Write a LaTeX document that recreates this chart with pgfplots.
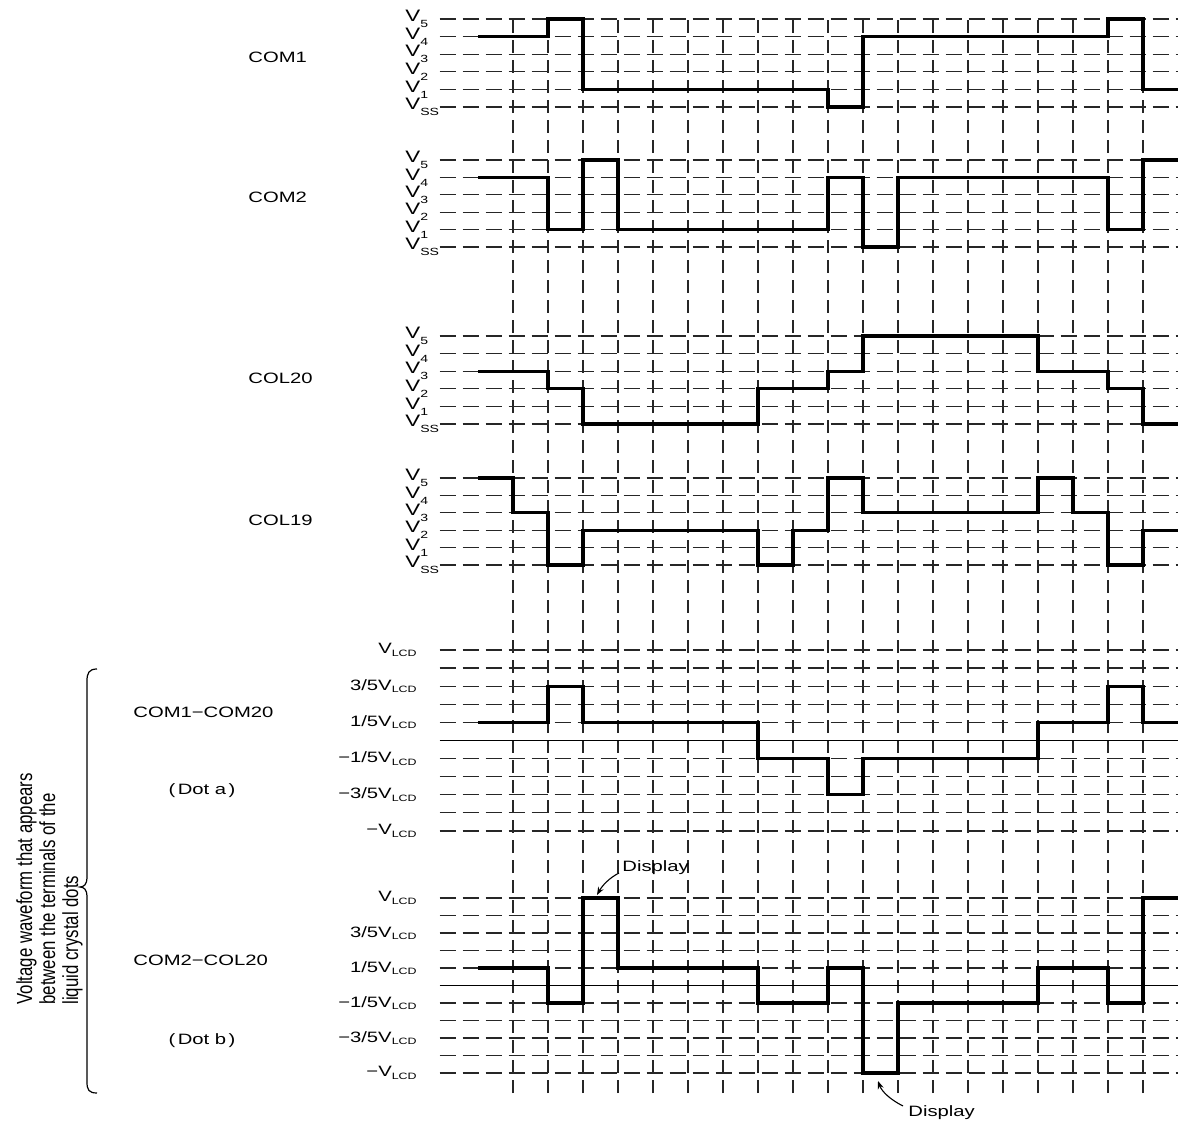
\documentclass[border=0pt]{standalone}
\usepackage{fontspec}
\setmainfont[FakeStretch=1.35]{Liberation Sans}
\newfontfamily\plainfont{Liberation Sans}
\usepackage{graphicx}
\usepackage{pgfplots}
\pgfplotsset{compat=1.18}
\usetikzlibrary{arrows.meta}
\newcommand\sub[1]{\raisebox{-0.7ex}{\fontsize{5.2}{5}\selectfont #1}}
\newcommand\subl[1]{\raisebox{-0.3ex}{\fontsize{4.6}{5}\selectfont #1}}
\pgfplotsset{
  wave/.style={
    scale only axis, width=369.25pt, xmin=-1.1, xmax=20,
    clip=false, axis line style={draw=none}, tick style={draw=none},
    major tick length=0pt, xtick=\empty,
    ymajorgrids,
    grid style={black!85, line width=0.6pt, dash pattern=on 8pt off 3.5pt},
    anchor=south west,
  },
  vsec/.style={wave, ymin=0, ymax=5, ytick={0,1,2,3,4,5},
    yticklabels={V\sub{SS},V\sub{1},V\sub{2},V\sub{3},V\sub{4},V\sub{5}},
    yticklabel style={anchor=west, inner sep=0pt, xshift=-17.25pt, font=\fontsize{8.3}{9}\selectfont}},
  dsec/.style={wave, ymin=-1, ymax=1, ytick={-1,-0.6,-0.2,0.2,0.6,1},
    yticklabels={−V\subl{LCD},−3/5V\subl{LCD},−1/5V\subl{LCD},1/5V\subl{LCD},3/5V\subl{LCD},V\subl{LCD}},
    yticklabel style={anchor=east, inner sep=0pt, xshift=-11.25pt},
    extra y ticks={-0.8,-0.4,0.4,0.8}, extra y tick labels={},
    extra y tick style={grid=major}},
  sig/.style={const plot, black, line width=1.6pt, line join=miter, no marks},
}
\begin{document}
\fontsize{7.5}{9}\selectfont
\begin{tikzpicture}[font=\fontsize{7.5}{9}\selectfont]
\path[use as bounding box] (0,0) rectangle (589pt,562.5pt);

% vertical dashed grid through all sections
\begin{axis}[scale only axis, width=369.25pt, height=537pt, xmin=-1.1, xmax=20,
  ymin=0, ymax=1, at={(219.75pt,16pt)}, anchor=south west,
  axis line style={draw=none}, tick style={draw=none}, major tick length=0pt,
  xtick={1,2,3,4,5,6,7,8,9,10,11,12,13,14,15,16,17,18,19}, xticklabels={},
  ytick=\empty, xmajorgrids,
  grid style={black!85, line width=0.6pt, dash pattern=on 6.5pt off 3.5pt}]
\addplot[draw=none] coordinates {(0,0)(20,1)};
\end{axis}

% COM1
\begin{axis}[vsec, height=44pt, at={(219.75pt,509pt)}]
\addplot[sig] coordinates {(0,4)(2,5)(3,1)(10,0)(11,4)(18,5)(19,1)(20,1)};
\end{axis}
% COM2
\begin{axis}[vsec, height=43.5pt, at={(219.75pt,439pt)}]
\addplot[sig] coordinates {(0,4)(2,1)(3,5)(4,1)(10,4)(11,0)(12,4)(18,1)(19,5)(20,5)};
\end{axis}
% COL20
\begin{axis}[vsec, height=44pt, at={(219.75pt,350.5pt)}]
\addplot[sig] coordinates {(0,3)(2,2)(3,0)(8,2)(10,3)(11,5)(16,3)(18,2)(19,0)(20,0)};
\end{axis}
% COL19
\begin{axis}[vsec, height=43.5pt, at={(219.75pt,280pt)}]
\addplot[sig] coordinates {(0,5)(1,3)(2,0)(3,2)(8,0)(9,2)(10,5)(11,3)(16,5)(17,3)(18,0)(19,2)(20,2)};
\end{axis}
% Dot a
\begin{axis}[dsec, height=90.5pt, at={(219.75pt,147pt)}]
\addplot[black, line width=0.6pt] coordinates {(-1.1,0)(20,0)};
\addplot[sig] coordinates {(0,0.2)(2,0.6)(3,0.2)(8,-0.2)(10,-0.6)(11,-0.2)(16,0.2)(18,0.6)(19,0.2)(20,0.2)};
\end{axis}
% Dot b
\begin{axis}[dsec, height=87.5pt, at={(219.75pt,26pt)}]
\addplot[black, line width=0.6pt] coordinates {(-1.1,0)(20,0)};
\addplot[sig] coordinates {(0,0.2)(2,-0.2)(3,1)(4,0.2)(8,-0.2)(10,0.2)(11,-1)(12,-0.2)(16,0.2)(18,-0.2)(19,1)(20,1)};
\end{axis}

% annotations in pixel coordinates
\begin{scope}[x=0.5pt,y=-0.5pt,yshift=562.5pt]
\node[anchor=west, inner sep=0pt] at (248,57) {COM1};
\node[anchor=west, inner sep=0pt] at (248,197) {COM2};
\node[anchor=west, inner sep=0pt] at (248,378) {COL20};
\node[anchor=west, inner sep=0pt] at (248,520) {COL19};
\node[anchor=west, inner sep=0pt] at (133,712) {COM1−COM20};
\node[inner sep=0pt] at (202,791) {(\,Dot a\,)};
\node[anchor=west, inner sep=0pt] at (133,960) {COM2−COL20};
\node[inner sep=0pt] at (202,1041) {(\,Dot b\,)};
\node[anchor=west, inner sep=0pt] at (622,868) {Display};
\node[anchor=west, inner sep=0pt] at (908,1113) {Display};
\draw[line width=0.55pt, -{Stealth[length=4pt,width=3pt]}] (619,873) .. controls (609,878) and (602,886) .. (597,895);
\draw[line width=0.55pt, -{Stealth[length=4pt,width=3pt]}] (903,1106) .. controls (891,1100) and (882,1092) .. (878,1081);
% brace
\draw[line width=0.6pt] (97,669) .. controls (89,669) and (87,673) .. (87,681) -- (87,878)
  .. controls (87,884) and (84,887) .. (80,887) .. controls (84,887) and (87,890) .. (87,896)
  -- (87,1082) .. controls (87,1090) and (89,1093) .. (97,1093);
\end{scope}
\begin{scope}[font=\plainfont\fontsize{8.4}{10}\selectfont]
\node[rotate=90, anchor=base west, inner sep=0pt] at (16pt,60pt) {\scalebox{1}[1.3]{Voltage waveform that appears}};
\node[rotate=90, anchor=base west, inner sep=0pt] at (27.5pt,60pt) {\scalebox{1}[1.3]{between the terminals of the}};
\node[rotate=90, anchor=base west, inner sep=0pt] at (39pt,60pt) {\scalebox{1}[1.3]{liquid crystal dots}};
\end{scope}
\end{tikzpicture}
\end{document}
